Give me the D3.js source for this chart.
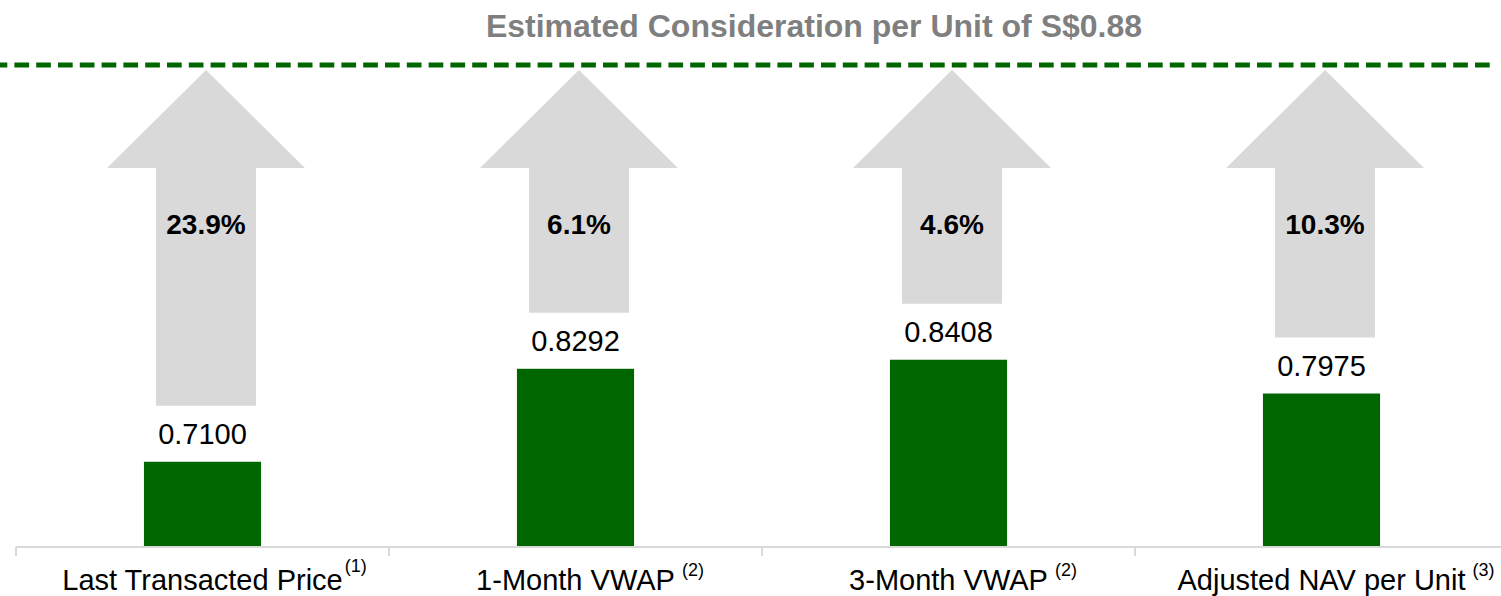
<!DOCTYPE html>
<html>
<head>
<meta charset="utf-8">
<script src="https://cdn.jsdelivr.net/npm/d3@7"></script>
<style>
  html, body { margin: 0; padding: 0; background: #ffffff; }
  svg { display: block; }
  text { font-family: "Liberation Sans", Arial, sans-serif; }
</style>
</head>
<body>
<div id="chart"></div>
<script>
// ---- data ----
const categories = ["Last Transacted Price", "1-Month VWAP", "3-Month VWAP", "Adjusted NAV per Unit"];
const footnotes = ["(1)", " (2)", " (2)", " (3)"];
const values = [0.7100, 0.8292, 0.8408, 0.7975];
const valueLabels = ["0.7100", "0.8292", "0.8408", "0.7975"];
const premiums = ["23.9%", "6.1%", "4.6%", "10.3%"];
const targetPrice = 0.88;
const titleText = "Estimated Consideration per Unit of S$" + targetPrice.toFixed(2);

// ---- layout ----
const W = 1501, H = 596;
const baseY = 546, plotTop = 78;
const targetY = 65;
const green = "#006600", arrowGrey = "#d9d9d9", axisGrey = "#d9d9d9";

const svg = d3.select("#chart").append("svg")
  .attr("width", W).attr("height", H);

const x = d3.scaleBand()
  .domain(categories)
  .range([16, 1508])
  .paddingInner(0.686)
  .paddingOuter(0.343);

const y = d3.scaleLinear()
  .domain([0.602, 1.202])
  .range([baseY, plotTop]);

const step = x.step();
const cx = c => x(c) + x.bandwidth() / 2;

// title
svg.append("text")
  .attr("x", 814).attr("y", 37)
  .attr("text-anchor", "middle")
  .attr("font-size", 32).attr("font-weight", "bold")
  .attr("fill", "#7f7f7f")
  .text(titleText);

// arrows
const arrowOffset = 3.5, tipY = 70, headBaseY = 168, headHalf = 99, shaftHalf = 50;
const arrowBottom = v => y(v) - 56;
svg.append("g").selectAll("path").data(categories).join("path")
  .attr("d", (c, i) => {
    const m = cx(c) + arrowOffset;
    const b = arrowBottom(values[i]);
    return d3.line()([
      [m, tipY], [m + headHalf, headBaseY], [m + shaftHalf, headBaseY],
      [m + shaftHalf, b], [m - shaftHalf, b], [m - shaftHalf, headBaseY],
      [m - headHalf, headBaseY]
    ]) + "Z";
  })
  .attr("fill", arrowGrey);

// premium labels
svg.append("g").selectAll("text").data(categories).join("text")
  .attr("x", c => cx(c) + arrowOffset)
  .attr("y", 233.5)
  .attr("text-anchor", "middle")
  .attr("font-size", 28).attr("font-weight", "bold")
  .attr("fill", "#000")
  .text((c, i) => premiums[i]);

// dashed target line
svg.append("line")
  .attr("x1", 0).attr("x2", 1496)
  .attr("y1", targetY).attr("y2", targetY)
  .attr("stroke", green).attr("stroke-width", 5)
  .attr("stroke-dasharray", "14.7,7.1")
  .attr("stroke-dashoffset", 7.4);

// bars
svg.append("g").selectAll("rect").data(categories).join("rect")
  .attr("x", c => x(c))
  .attr("width", x.bandwidth())
  .attr("y", (c, i) => y(values[i]))
  .attr("height", (c, i) => baseY - y(values[i]))
  .attr("fill", green);

// value labels
svg.append("g").selectAll("text").data(categories).join("text")
  .attr("x", c => cx(c))
  .attr("y", (c, i) => y(values[i]) - 18)
  .attr("text-anchor", "middle")
  .attr("font-size", 29)
  .attr("fill", "#000")
  .text((c, i) => valueLabels[i]);

// axis
const axisG = svg.append("g").attr("stroke", axisGrey).attr("stroke-width", 2);
axisG.append("line")
  .attr("x1", x.range()[0]).attr("x2", x.range()[1])
  .attr("y1", baseY + 1).attr("y2", baseY + 1);
const boundaries = d3.range(categories.length).map(i => x.range()[0] + i * step);
axisG.selectAll("line.tick").data(boundaries).join("line")
  .attr("class", "tick")
  .attr("x1", d => d).attr("x2", d => d)
  .attr("y1", baseY + 1).attr("y2", baseY + 10);

// category labels with superscript footnotes
const labG = svg.append("g");
categories.forEach((c, i) => {
  const t = labG.append("text")
    .attr("x", cx(c)).attr("y", 590)
    .attr("text-anchor", "middle")
    .attr("font-size", 29)
    .attr("fill", "#000")
    .text(c);
  const w = t.node().getComputedTextLength();
  labG.append("text")
    .attr("x", cx(c) + w / 2 + 2)
    .attr("y", i === 0 ? 572 : 576)
    .attr("font-size", 18)
    .attr("fill", "#000")
    .style("white-space", "pre")
    .text(footnotes[i]);
});
</script>
</body>
</html>
